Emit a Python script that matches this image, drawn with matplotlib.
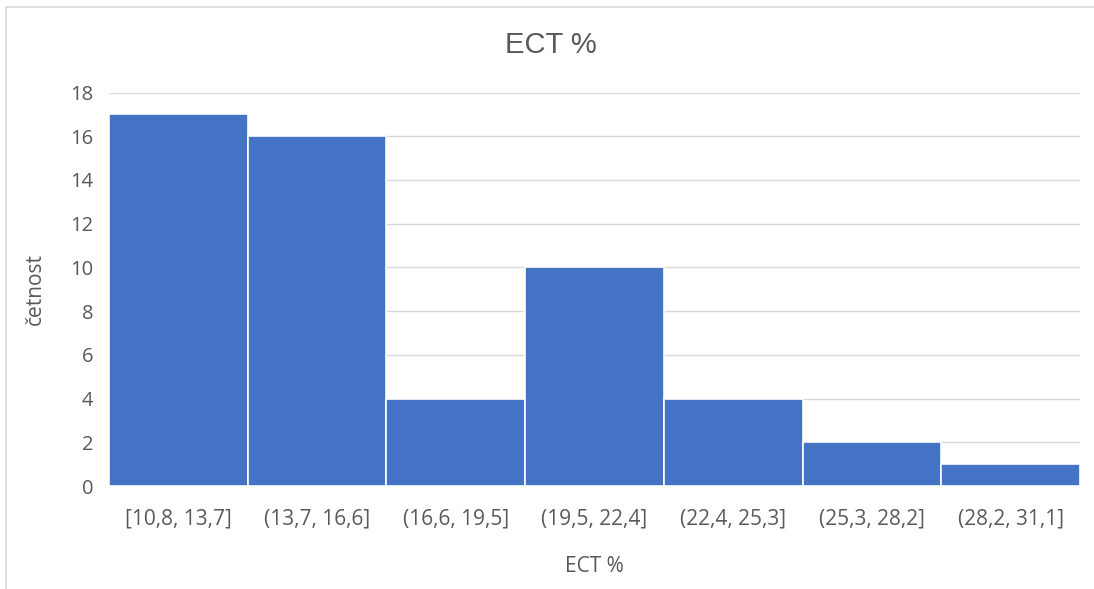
import matplotlib
matplotlib.use("Agg")
import matplotlib.pyplot as plt
from matplotlib.patches import Rectangle
import numpy as np

# Histogram of ECT % (bin counts)
bins = ["[10,8, 13,7]", "(13,7, 16,6]", "(16,6, 19,5]", "(19,5, 22,4]",
        "(22,4, 25,3]", "(25,3, 28,2]", "(28,2, 31,1]"]
counts = [17, 16, 4, 10, 4, 2, 1]
y_ticks = [0, 2, 4, 6, 8, 10, 12, 14, 16, 18]

W, H = 1094, 589
fig = plt.figure(figsize=(W / 100, H / 100), dpi=100)
fig.patch.set_facecolor("white")

# light chart frame
fig.patches.append(Rectangle((6 / W, -0.02), 1.05, 1 - 7 / H + 0.02,
                             transform=fig.transFigure, fill=False,
                             edgecolor="#d9d9d9", linewidth=1.2))

left, right = 109 / W, 1080 / W
bottom, top = (H - 486) / H, (H - 92.5) / H
ax = fig.add_axes([left, bottom, right - left, top - bottom])

text_color = "#595959"
tick_font = "Open Sans"

x = np.arange(len(bins))
ax.bar(x, counts, width=1.0, color="#4472C4", edgecolor="white",
       linewidth=1.2, zorder=3)

ax.set_xlim(-0.5, len(bins) - 0.5)
ax.set_ylim(0, 18)
ax.set_yticks(y_ticks)
ax.set_xticks(x)
ax.set_xticklabels(bins)
ax.grid(axis="y", color="#d9d9d9", linewidth=1, zorder=0)
ax.set_axisbelow(True)
for s in ax.spines.values():
    s.set_visible(False)
ax.tick_params(length=0, colors=text_color)
ax.tick_params(axis="x", pad=16, labelsize=15)
ax.tick_params(axis="y", pad=11.5, labelsize=14.5)
for lab in ax.get_xticklabels() + ax.get_yticklabels():
    lab.set_fontfamily(tick_font)

fig.text(551 / W, 1 - 45 / H, "ECT %", ha="center", va="center",
         fontsize=21, color=text_color, fontfamily="Liberation Sans")
fig.text(594 / W, 1 - 566 / H, "ECT %", ha="center", va="center",
         fontsize=15, color=text_color, fontfamily=tick_font)
fig.text(35 / W, 1 - 289 / H, "četnost", ha="center", va="center",
         rotation=90, fontsize=15, color=text_color, fontfamily=tick_font)

fig.savefig("out.png", dpi=100, facecolor="white")
